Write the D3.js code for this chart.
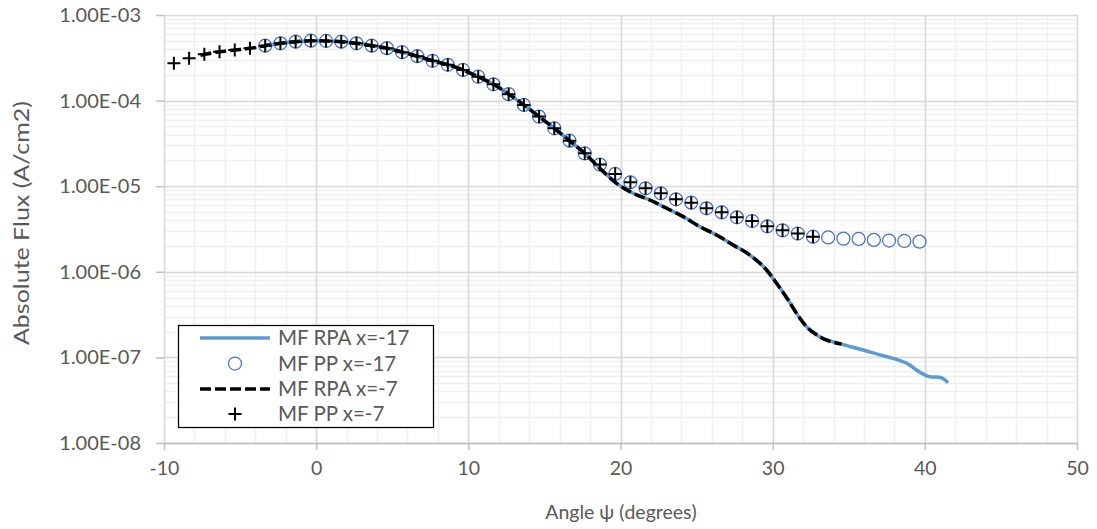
<!DOCTYPE html>
<html>
<head>
<meta charset="utf-8">
<script src="https://cdn.jsdelivr.net/npm/d3@7"></script>
<style>
  body { margin: 0; background: #fff; }
  svg text { font-family: Lato, "Open Sans", sans-serif; fill: #595959; }
</style>
</head>
<body>
<svg id="chart" width="1097" height="529"></svg>
<script>
// MF RPA x=-17 (blue solid line)
const rpa17Angle = [-3.35, -2.35, -1.35, -0.35, 0.65, 1.65, 2.65, 3.65, 4.65, 5.65, 6.65, 7.65, 8.65, 9.65,
  10.65, 11.65, 12.65, 13.65, 14.65, 15.65, 16.65, 17.65, 18.7, 19.74, 20.83, 21.93, 23.03, 24.12, 25.21,
  26.31, 27.4, 28.5, 29.6, 30.26, 31.02, 31.57, 32.23, 33.1, 34.53, 35.95, 37.04, 37.92, 39.01, 39.45,
  40.33, 40.99, 41.53];
const rpa17Flux = [4.38e-4, 4.67e-4, 4.88e-4, 5.01e-4, 4.97e-4, 4.88e-4, 4.67e-4, 4.38e-4, 4.10e-4, 3.68e-4,
  3.30e-4, 2.92e-4, 2.62e-4, 2.28e-4, 1.90e-4, 1.55e-4, 1.19e-4, 8.9e-5, 6.5e-5, 4.75e-5, 3.4e-5, 2.42e-5,
  1.58e-5, 1.08e-5, 8.26e-6, 6.9e-6, 5.52e-6, 4.41e-6, 3.37e-6, 2.69e-6, 2.06e-6, 1.57e-6, 1.05e-6,
  7.34e-7, 4.69e-7, 3.27e-7, 2.28e-7, 1.74e-7, 1.43e-7, 1.22e-7, 1.07e-7, 9.75e-8, 8.14e-8, 7.13e-8,
  5.94e-8, 5.85e-8, 5.06e-8];

// MF PP x=-17 (open circles)
const pp17Angle = [-3.35, -2.35, -1.35, -0.35, 0.65, 1.65, 2.65, 3.65, 4.65, 5.65, 6.65, 7.65, 8.65, 9.65,
  10.65, 11.65, 12.65, 13.65, 14.65, 15.65, 16.65, 17.65, 18.65, 19.65, 20.65, 21.65, 22.65, 23.65, 24.65,
  25.65, 26.65, 27.65, 28.65, 29.65, 30.65, 31.65, 32.65, 33.65, 34.65, 35.65, 36.65, 37.65, 38.65, 39.65];
const pp17Flux = [4.38e-4, 4.67e-4, 4.88e-4, 5.01e-4, 4.97e-4, 4.88e-4, 4.67e-4, 4.38e-4, 4.10e-4, 3.68e-4,
  3.30e-4, 2.92e-4, 2.62e-4, 2.28e-4, 1.90e-4, 1.55e-4, 1.19e-4, 8.9e-5, 6.5e-5, 4.75e-5, 3.4e-5, 2.42e-5,
  1.79e-5, 1.39e-5, 1.11e-5, 9.45e-6, 8.26e-6, 7.03e-6, 6.42e-6, 5.52e-6, 4.95e-6, 4.33e-6, 3.92e-6,
  3.40e-6, 3.05e-6, 2.80e-6, 2.57e-6, 2.52e-6, 2.44e-6, 2.42e-6, 2.36e-6, 2.32e-6, 2.29e-6, 2.25e-6];

// MF RPA x=-7 (black dashed line)
const rpa7Angle = [-7.6, -7.35, -6.35, -5.35, -4.35, -3.35, -2.35, -1.35, -0.35, 0.65, 1.65, 2.65, 3.65,
  4.65, 5.65, 6.65, 7.65, 8.65, 9.65, 10.65, 11.65, 12.65, 13.65, 14.65, 15.65, 16.65, 17.65, 18.7, 19.74,
  20.83, 21.93, 23.03, 24.12, 25.21, 26.31, 27.4, 28.5, 29.6, 30.26, 31.02, 31.57, 32.23, 33.1, 34.53];
const rpa7Flux = [3.38e-4, 3.47e-4, 3.72e-4, 3.90e-4, 4.08e-4, 4.38e-4, 4.67e-4, 4.88e-4, 5.01e-4, 4.97e-4,
  4.88e-4, 4.67e-4, 4.38e-4, 4.10e-4, 3.68e-4, 3.30e-4, 2.92e-4, 2.62e-4, 2.28e-4, 1.90e-4, 1.55e-4,
  1.19e-4, 8.9e-5, 6.5e-5, 4.75e-5, 3.4e-5, 2.42e-5, 1.58e-5, 1.08e-5, 8.26e-6, 6.9e-6, 5.52e-6, 4.41e-6,
  3.37e-6, 2.69e-6, 2.06e-6, 1.57e-6, 1.05e-6, 7.34e-7, 4.69e-7, 3.27e-7, 2.28e-7, 1.74e-7, 1.43e-7];

// MF PP x=-7 (plus markers)
const pp7Angle = [-9.35, -8.35, -7.35, -6.35, -5.35, -4.35, -3.35, -2.35, -1.35, -0.35, 0.65, 1.65, 2.65,
  3.65, 4.65, 5.65, 6.65, 7.65, 8.65, 9.65, 10.65, 11.65, 12.65, 13.65, 14.65, 15.65, 16.65, 17.65, 18.65,
  19.65, 20.65, 21.65, 22.65, 23.65, 24.65, 25.65, 26.65, 27.65, 28.65, 29.65, 30.65, 31.65, 32.65];
const pp7Flux = [2.73e-4, 3.12e-4, 3.47e-4, 3.72e-4, 3.90e-4, 4.08e-4, 4.38e-4, 4.67e-4, 4.88e-4, 5.01e-4,
  4.97e-4, 4.88e-4, 4.67e-4, 4.38e-4, 4.10e-4, 3.68e-4, 3.30e-4, 2.92e-4, 2.62e-4, 2.28e-4, 1.90e-4,
  1.55e-4, 1.19e-4, 8.9e-5, 6.5e-5, 4.75e-5, 3.4e-5, 2.42e-5, 1.79e-5, 1.39e-5, 1.11e-5, 9.45e-6, 8.26e-6,
  7.03e-6, 6.42e-6, 5.52e-6, 4.95e-6, 4.33e-6, 3.92e-6, 3.40e-6, 3.05e-6, 2.80e-6, 2.57e-6];

const xTicks = [-10, 0, 10, 20, 30, 40, 50];
const yTicks = [1e-3, 1e-4, 1e-5, 1e-6, 1e-7, 1e-8];
const legendNames = ["MF RPA x=-17", "MF PP x=-17", "MF RPA x=-7", "MF PP x=-7"];

const svg = d3.select("#chart");
const plotL = 164, plotR = 1077, plotT = 15, plotB = 443;

const x = d3.scaleLinear().domain([-10, 50]).range([plotL, plotR]);
const y = d3.scaleLog().domain([1e-8, 1e-3]).range([plotB, plotT]);

function sci(v) {
  const parts = v.toExponential(2).toUpperCase().split("E");
  const e = +parts[1];
  return parts[0] + "E" + (e < 0 ? "-" : "+") + String(Math.abs(e)).padStart(2, "0");
}

const zip = (a, b) => a.map((v, i) => ({ x: v, y: b[i] }));

// gridlines
const grid = svg.append("g");
grid.selectAll(".vminor")
  .data(d3.range(-10, 51, 2))
  .enter().append("line")
  .attr("x1", d => Math.round(x(d)) + 0.5).attr("x2", d => Math.round(x(d)) + 0.5)
  .attr("y1", plotT).attr("y2", plotB)
  .attr("stroke", "#f0f0f0").attr("stroke-width", 1.5);
grid.selectAll(".hminor")
  .data(y.ticks())
  .enter().append("line")
  .attr("x1", plotL).attr("x2", plotR)
  .attr("y1", d => Math.round(y(d)) + 0.5).attr("y2", d => Math.round(y(d)) + 0.5)
  .attr("stroke", "#f0f0f0").attr("stroke-width", 1.5);
grid.selectAll(".vmajor")
  .data(xTicks)
  .enter().append("line")
  .attr("x1", d => Math.round(x(d)) + 0.5).attr("x2", d => Math.round(x(d)) + 0.5)
  .attr("y1", plotT).attr("y2", plotB)
  .attr("stroke", "#d9d9d9").attr("stroke-width", 1.5);
grid.selectAll(".hmajor")
  .data(yTicks)
  .enter().append("line")
  .attr("x1", plotL).attr("x2", plotR)
  .attr("y1", d => Math.round(y(d)) + 0.5).attr("y2", d => Math.round(y(d)) + 0.5)
  .attr("stroke", "#d9d9d9").attr("stroke-width", 1.5);

// axes
const xAxis = svg.append("g")
  .attr("transform", "translate(0," + plotB + ")")
  .call(d3.axisBottom(x).tickValues(xTicks).tickFormat(d => String(d))
    .tickSize(7).tickPadding(11).tickSizeOuter(0));
xAxis.select(".domain").attr("stroke", "#bfbfbf").attr("stroke-width", 1.5);
xAxis.selectAll(".tick line").attr("stroke", "#bfbfbf").attr("stroke-width", 1.5);
xAxis.selectAll(".tick text").style("font-size", "19.5px").attr("fill", "#595959");

const yAxis = svg.append("g")
  .attr("transform", "translate(" + plotL + ",0)")
  .call(d3.axisLeft(y).tickValues(yTicks).tickFormat(sci).tickSize(8).tickPadding(15).tickSizeOuter(0));
yAxis.select(".domain").remove();
yAxis.selectAll(".tick line").attr("stroke", "#bfbfbf").attr("stroke-width", 1.5);
yAxis.selectAll(".tick text").style("font-size", "20px").attr("fill", "#595959");

// axis titles
svg.append("text")
  .attr("transform", "translate(29,223) rotate(-90)")
  .attr("text-anchor", "middle")
  .attr("textLength", 244).attr("lengthAdjust", "spacingAndGlyphs")
  .style("font-size", "20.5px")
  .text("Absolute Flux (A/cm2)");
svg.append("text")
  .attr("x", 621).attr("y", 519)
  .attr("text-anchor", "middle")
  .style("font-size", "19.5px")
  .text("Angle ψ (degrees)");

// series
const line = d3.line().x(d => x(d.x)).y(d => y(d.y)).curve(d3.curveMonotoneX);

svg.append("path")
  .datum(zip(rpa17Angle, rpa17Flux))
  .attr("d", line)
  .attr("fill", "none").attr("stroke", "#5b9bd5").attr("stroke-width", 3.5);

svg.append("g").selectAll("circle")
  .data(zip(pp17Angle, pp17Flux))
  .enter().append("circle")
  .attr("cx", d => x(d.x)).attr("cy", d => y(d.y))
  .attr("r", 6.5)
  .attr("fill", "none").attr("stroke", "#4472c4").attr("stroke-width", 1.25);

svg.append("path")
  .datum(zip(rpa7Angle, rpa7Flux))
  .attr("d", line)
  .attr("fill", "none").attr("stroke", "#000").attr("stroke-width", 3.5)
  .attr("stroke-dasharray", "11,4");

svg.append("g").selectAll("path")
  .data(zip(pp7Angle, pp7Flux))
  .enter().append("path")
  .attr("transform", d => "translate(" + x(d.x) + "," + y(d.y) + ")")
  .attr("d", "M-6.5,0H6.5M0,-6.5V6.5")
  .attr("stroke", "#000").attr("stroke-width", 2);

// legend
const lg = svg.append("g");
lg.append("rect")
  .attr("x", 178.5).attr("y", 325.5).attr("width", 255).attr("height", 102)
  .attr("fill", "#fff").attr("stroke", "#000").attr("stroke-width", 1.25);
const rowY = [338, 363.5, 389, 414];
lg.append("line").attr("x1", 200).attr("x2", 270).attr("y1", rowY[0]).attr("y2", rowY[0])
  .attr("stroke", "#5b9bd5").attr("stroke-width", 3.5);
lg.append("circle").attr("cx", 235).attr("cy", rowY[1]).attr("r", 6.5)
  .attr("fill", "none").attr("stroke", "#4472c4").attr("stroke-width", 1.25);
lg.append("line").attr("x1", 200).attr("x2", 270).attr("y1", rowY[2]).attr("y2", rowY[2])
  .attr("stroke", "#000").attr("stroke-width", 3.5).attr("stroke-dasharray", "11,4");
lg.append("path").attr("transform", "translate(235," + rowY[3] + ")")
  .attr("d", "M-6.5,0H6.5M0,-6.5V6.5").attr("stroke", "#000").attr("stroke-width", 2);
lg.selectAll("text.lab")
  .data(legendNames)
  .enter().append("text")
  .attr("x", 278).attr("y", (d, i) => rowY[i] + 7)
  .style("font-size", "20.5px")
  .text(d => d);
</script>
</body>
</html>
